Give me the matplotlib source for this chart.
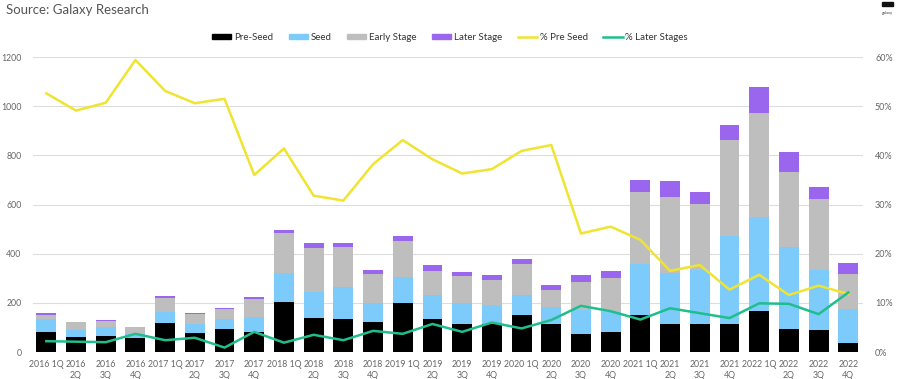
import matplotlib
matplotlib.use("Agg")
import matplotlib.pyplot as plt
from matplotlib.patches import Patch
from matplotlib.lines import Line2D
from matplotlib.ticker import FuncFormatter

plt.rcParams['font.family'] = ['Lato', 'DejaVu Sans']

years = [2016] * 4 + [2017] * 4 + [2018] * 4 + [2019] * 4 + [2020] * 4 + [2021] * 4 + [2022] * 4
quarters = ["1Q", "2Q", "3Q", "4Q"] * 7
labels = [f"{y} {q}" if q == "1Q" else f"{y}\n{q}" for y, q in zip(years, quarters)]

# deal counts by stage (stacked)
pre_seed = [80, 60, 65, 58, 117, 79, 92, 83, 203, 140, 133, 123, 201, 136,
            115, 113, 152, 113, 73, 83, 150, 113, 113, 115, 168, 94, 89, 38]
seed = [53, 29, 35, 15, 47, 34, 41, 61, 117, 103, 130, 75, 105, 96,
        83, 78, 80, 71, 98, 81, 207, 207, 221, 358, 383, 332, 245, 136]
early = [17, 33, 27, 27, 57, 40, 43, 72, 165, 181, 165, 118, 144, 99,
         111, 102, 125, 68, 115, 136, 295, 312, 267, 389, 420, 305, 287, 142]
later = [7, 1, 3, 3, 7, 4, 4, 9, 11, 18, 15, 17, 21, 24,
         16, 22, 21, 19, 27, 30, 48, 62, 51, 61, 108, 81, 52, 47]

# shares (%)
pct_pre_seed = [52.6, 49.1, 50.7, 59.4, 53.1, 50.6, 51.5, 36.0, 41.4, 31.8, 30.8, 38.2, 43.1, 39.2,
                36.3, 37.2, 40.9, 42.1, 24.1, 25.5, 22.8, 16.5, 17.7, 12.7, 15.7, 11.6, 13.5, 11.8]
pct_later = [2.2, 2.1, 2.0, 3.7, 2.4, 2.9, 0.9, 4.1, 1.9, 3.5, 2.4, 4.3, 3.7, 5.7,
             4.1, 6.0, 4.8, 6.5, 9.4, 8.3, 6.6, 8.9, 7.9, 6.9, 9.9, 9.8, 7.7, 12.1]

c_pre = "#000000"
c_seed = "#7DCBFA"
c_early = "#BEBEBE"
c_later = "#9B66EE"
c_ypct = "#EFE431"
c_gpct = "#1FBE8C"
tick_c = "#666666"

fig = plt.figure(figsize=(9.07, 3.79), dpi=100)
ax = fig.add_axes([0.036, 0.0712, 0.915, 0.7784])

x = list(range(len(labels)))
w = 0.67
b1 = pre_seed
b2 = [a + b for a, b in zip(b1, seed)]
b3 = [a + b for a, b in zip(b2, early)]
ax.bar(x, pre_seed, w, color=c_pre, zorder=2)
ax.bar(x, seed, w, bottom=b1, color=c_seed, zorder=2)
ax.bar(x, early, w, bottom=b2, color=c_early, zorder=2)
ax.bar(x, later, w, bottom=b3, color=c_later, zorder=2)

ax.set_xlim(-0.46, 27.48)
ax.set_ylim(0, 1200)
ax.set_yticks(range(0, 1201, 200))
ax.grid(axis="y", color="#DDDDDD", lw=0.8, zorder=0)
for s in ax.spines.values():
    s.set_visible(False)
ax.tick_params(axis="both", length=0, labelsize=6.3, labelcolor=tick_c)
ax.tick_params(axis="y", pad=8)
ax.set_xticks(x)
ax.set_xticklabels(labels, linespacing=1.3)
ax.tick_params(axis="x", pad=6)

ax2 = ax.twinx()
ax2.plot(x, pct_pre_seed, color=c_ypct, lw=1.8)
ax2.plot(x, pct_later, color=c_gpct, lw=1.8)
ax2.set_ylim(0, 60)
ax2.set_yticks(range(0, 61, 10))
ax2.yaxis.set_major_formatter(FuncFormatter(lambda v, p: f"{v:.0f}%"))
for s in ax2.spines.values():
    s.set_visible(False)
ax2.tick_params(axis="y", length=0, labelsize=6.5, labelcolor=tick_c, pad=9)

handles = [
    Patch(color=c_pre, label="Pre-Seed"),
    Patch(color=c_seed, label="Seed"),
    Patch(color=c_early, label="Early Stage"),
    Patch(color=c_later, label="Later Stage"),
    Line2D([], [], color=c_ypct, lw=1.8, label="% Pre Seed"),
    Line2D([], [], color=c_gpct, lw=1.8, label="% Later Stages"),
]
fig.legend(handles=handles, loc="center", bbox_to_anchor=(0.496, 0.902), ncol=6,
           frameon=False, fontsize=7, handlelength=2.0, handleheight=0.45,
           handletextpad=0.25, columnspacing=1.6, labelcolor="#333333")

fig.text(0.007, 0.973, "Source: Galaxy Research", fontsize=9.5, color="#555555",
         ha="left", va="center")

# small logo top-right
fig.patches.append(plt.Rectangle((0.972, 0.985), 0.013, 0.01, transform=fig.transFigure,
                                 color="#111111"))
fig.text(0.978, 0.965, "galaxy", fontsize=3, color="#444444", ha="center", va="center")

fig.savefig("out.png", dpi=100)
